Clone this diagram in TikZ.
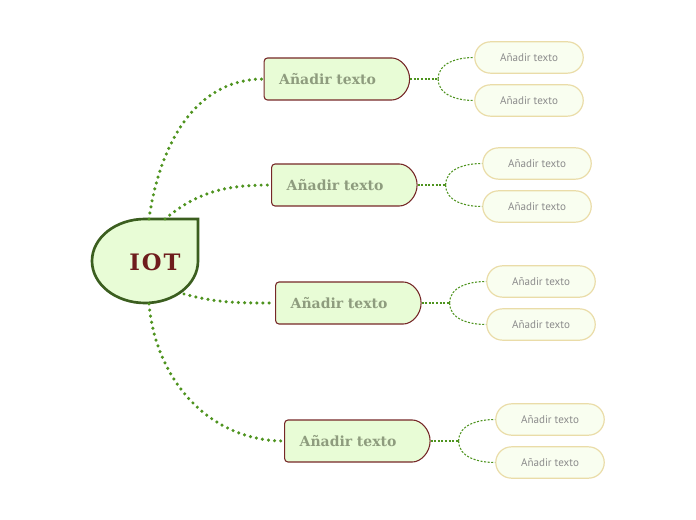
\documentclass[tikz,border=0pt]{standalone}
\usepackage{fontspec}
\setmainfont{DejaVu Serif}
\newfontfamily\subfont{PT Sans}
\usetikzlibrary{shapes.misc}
\definecolor{cfond}{RGB}{232,252,214}
\definecolor{cvert}{RGB}{59,94,31}
\definecolor{cpoint}{RGB}{78,147,31}
\definecolor{cbord}{RGB}{118,40,40}
\definecolor{crouge}{RGB}{110,29,29}
\definecolor{ctexte}{RGB}{142,156,126}
\definecolor{csfond}{RGB}{249,254,240}
\definecolor{csbord}{RGB}{234,220,168}
\definecolor{cstexte}{RGB}{140,140,140}
\tikzset{
  mainbox/.style={rounded rectangle, rounded rectangle west arc=none, rounded corners=2.5pt,
    draw=cbord, fill=cfond, line width=0.8pt, minimum height=31.5pt,
    text width=86pt, inner xsep=11.25pt, align=left, text=ctexte,
    font=\bfseries\fontsize{10.5}{12}\selectfont},
  subbox/.style={rounded rectangle, draw=csbord, fill=csfond, line width=0.9pt,
    minimum height=23.5pt, minimum width=88pt, text=cstexte,
    font=\subfont\fontsize{8.3}{10}\selectfont},
  bigdots/.style={cpoint, line width=2.6pt, dash pattern=on 0pt off 4.6pt, line cap=round},
  smalldots/.style={cpoint, line width=0.8pt, dash pattern=on 1.5pt off 1.2pt}
}
\begin{document}
\begin{tikzpicture}[x=0.75pt, y=0.75pt]
\useasboundingbox (0,0) rectangle (696,-520);
% noeud central
\draw[cvert, fill=cfond, line width=2pt] (198,-219) -- (198,-261)
  arc[start angle=0, end angle=-270, x radius=53, y radius=42] -- cycle;
\node[text=crouge, font=\bfseries\fontsize{17}{19}\selectfont] (iot) at (155,-262) {I\kern1.5pt O\kern1.5pt T};
\coordinate (t1) at (149,-219); \coordinate (t2) at (165,-219);
\coordinate (t3) at (184,-294); \coordinate (t4) at (149,-304);
% branches
\foreach \i/\x/\y/\sx in {1/336.5/79/529, 2/344/185/537, 3/348/303/541, 4/357/441/550}
{
  \node[mainbox] (m\i) at (\x,-\y) {Añadir texto};
  \node[subbox] (s\i a) at (\sx,-\y+21.5) {Añadir texto};
  \node[subbox] (s\i b) at (\sx,-\y-21.5) {Añadir texto};
  \coordinate (j\i) at ([xshift=21pt]m\i.east);
  \draw[smalldots] (m\i.east) -- (j\i);
  \draw[smalldots] (j\i) to[out=90,in=180] (s\i a.west);
  \draw[smalldots] (j\i) to[out=-90,in=180] (s\i b.west);
}
\draw[bigdots] (t1) to[out=82,in=180] (m1.west);
\draw[bigdots] (t2) to[out=40,in=180] (m2.west);
\draw[bigdots] (t3) to[out=-15,in=180] (m3.west);
\draw[bigdots] (t4) to[out=-85,in=180] (m4.west);
\end{tikzpicture}
\end{document}
